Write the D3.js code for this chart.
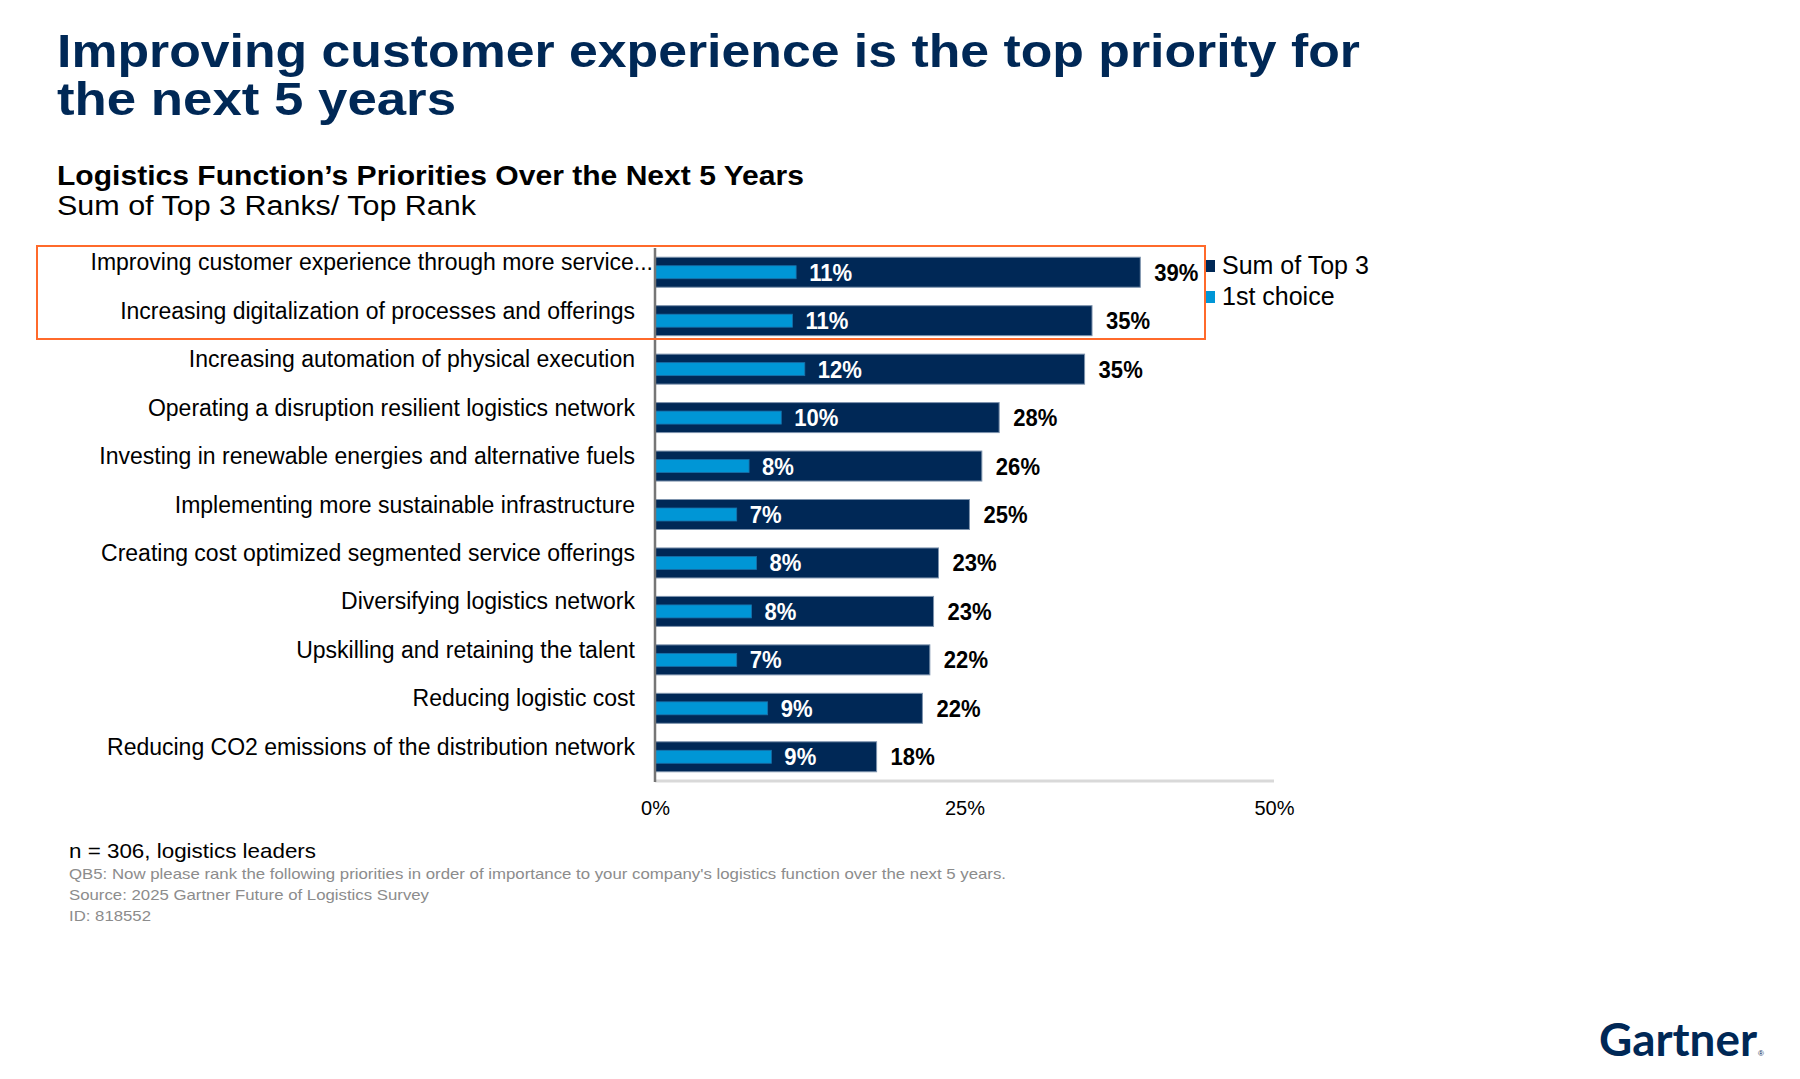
<!DOCTYPE html>
<html>
<head>
<meta charset="utf-8">
<script src="https://cdn.jsdelivr.net/npm/d3@7/dist/d3.min.js"></script>
<style>
  html, body { margin: 0; padding: 0; background: #ffffff; }
  svg { display: block; font-family: "Liberation Sans", Arial, sans-serif; }
</style>
</head>
<body>
<svg id="chart" width="1800" height="1079"></svg>
<script>
// ---- Data ----
const categories = [
  "Improving customer experience through more service...",
  "Increasing digitalization of processes and offerings",
  "Increasing automation of physical execution",
  "Operating a disruption resilient logistics network",
  "Investing in renewable energies and alternative fuels",
  "Implementing more sustainable infrastructure",
  "Creating cost optimized segmented service offerings",
  "Diversifying logistics network",
  "Upskilling and retaining the talent",
  "Reducing logistic cost",
  "Reducing CO2 emissions of the distribution network"
];
const sumTop3 = [39.2, 35.3, 34.7, 27.8, 26.4, 25.4, 22.9, 22.5, 22.2, 21.6, 17.9];
const firstChoice = [11.4, 11.1, 12.1, 10.2, 7.6, 6.6, 8.2, 7.8, 6.6, 9.1, 9.4];
const xTicks = [0, 25, 50];
const seriesNames = ["Sum of Top 3", "1st choice"];

const titleLines = ["Improving customer experience is the top priority for", "the next 5 years"];
const subtitle = "Logistics Function\u2019s Priorities Over the Next 5 Years";
const subtitle2 = "Sum of Top 3 Ranks/ Top Rank";
const footnotes = [
  "QB5: Now please rank the following priorities in order of importance to your company's logistics function over the next 5 years.",
  "Source: 2025 Gartner Future of Logistics Survey",
  "ID: 818552"
];
const sampleNote = "n = 306, logistics leaders";

// ---- Styles ----
const NAVY = "#002856";
const LIGHT = "#0096D6";
const svg = d3.select("#chart");

// Titles
svg.append("text").attr("x", 57).attr("y", 67).attr("fill", NAVY)
  .attr("font-size", 46).attr("font-weight", "bold")
  .attr("textLength", 1303).attr("lengthAdjust", "spacingAndGlyphs").text(titleLines[0]);
svg.append("text").attr("x", 57).attr("y", 115).attr("fill", NAVY)
  .attr("font-size", 46).attr("font-weight", "bold")
  .attr("textLength", 399).attr("lengthAdjust", "spacingAndGlyphs").text(titleLines[1]);
svg.append("text").attr("x", 57).attr("y", 185).attr("fill", "#000")
  .attr("font-size", 27).attr("font-weight", "bold")
  .attr("textLength", 747).attr("lengthAdjust", "spacingAndGlyphs").text(subtitle);
svg.append("text").attr("x", 57).attr("y", 215).attr("fill", "#000")
  .attr("font-size", 27)
  .attr("textLength", 419).attr("lengthAdjust", "spacingAndGlyphs").text(subtitle2);

// ---- Chart ----
const x0 = 655, x1 = 1274, yTop = 248, yBot = 781;
const x = d3.scaleLinear().domain([0, 50]).range([x0, x1]);
const y = d3.scaleBand().domain(categories).range([yTop, yBot]).paddingInner(0).paddingOuter(0);
const SX = 0.92;

const data = categories.map((c, i) => ({ c, s: sumTop3[i], f: firstChoice[i] }));

// bottom gridline
svg.append("line").attr("x1", x0).attr("x2", x1).attr("y1", yBot).attr("y2", yBot)
  .attr("stroke", "#d9d9d9").attr("stroke-width", 3);

// x axis tick labels via d3 axis
const xAxis = d3.axisBottom(x).tickValues(xTicks).tickFormat(d => d + "%").tickSize(0).tickPadding(20);
const gx = svg.append("g").attr("transform", `translate(0,${yBot})`).call(xAxis);
gx.select(".domain").remove();
gx.selectAll("text").attr("font-size", 20).attr("font-family", "Liberation Sans, Arial, sans-serif").attr("fill", "#000");

const g = svg.append("g");
const rows = g.selectAll("g.row").data(data).join("g").attr("class", "row");

// dark bars
rows.append("rect")
  .attr("x", x(0)).attr("y", d => y(d.c) + y.bandwidth() / 2 - 15)
  .attr("width", d => x(d.s) - x(0)).attr("height", 30)
  .attr("fill", NAVY).attr("stroke", "#7d93ad").attr("stroke-width", 1);
// light bars
rows.append("rect")
  .attr("x", x(0)).attr("y", d => y(d.c) + y.bandwidth() / 2 - 6.5)
  .attr("width", d => x(d.f) - x(0)).attr("height", 13)
  .attr("fill", LIGHT).attr("stroke", "#1a6fa8").attr("stroke-width", 0.8);

// inner labels
rows.append("text")
  .attr("transform", d => `translate(${x(d.f) + 13},${y(d.c) + y.bandwidth() / 2 + 8.5}) scale(${SX},1)`)
  .attr("fill", "#fff").attr("font-weight", "bold").attr("font-size", 24)
  .text(d => Math.round(d.f) + "%");
// outer labels
rows.append("text")
  .attr("transform", d => `translate(${x(d.s) + 14},${y(d.c) + y.bandwidth() / 2 + 8.5}) scale(${SX},1)`)
  .attr("fill", "#000").attr("font-weight", "bold").attr("font-size", 24)
  .text(d => Math.round(d.s) + "%");

// category labels
rows.append("text")
  .attr("x", d => d.c.endsWith("...") ? x0 - 2 : x0 - 20)
  .attr("y", d => y(d.c) + y.bandwidth() / 2 - 2)
  .attr("text-anchor", "end").attr("fill", "#000").attr("font-size", 23)
  .text(d => d.c);

// vertical axis line
svg.append("line").attr("x1", x0).attr("x2", x0).attr("y1", yTop).attr("y2", yBot + 1)
  .attr("stroke", "#767676").attr("stroke-width", 2.5);

// legend
const leg = svg.append("g");
const legColors = [NAVY, LIGHT];
seriesNames.forEach((n, i) => {
  const yy = 273 + i * 31;
  leg.append("rect").attr("x", 1204).attr("y", yy - 13).attr("width", 11).attr("height", 12).attr("fill", legColors[i]);
  leg.append("text").attr("x", 1222).attr("y", yy + 1).attr("font-size", 25).attr("fill", "#000").text(n);
});

// highlight box
svg.append("rect").attr("x", 37).attr("y", 246).attr("width", 1168).attr("height", 93)
  .attr("fill", "none").attr("stroke", "#FF6A2B").attr("stroke-width", 2);

// footer
svg.append("text").attr("x", 69).attr("y", 858).attr("font-size", 21).attr("fill", "#000")
  .attr("textLength", 247).attr("lengthAdjust", "spacingAndGlyphs").text(sampleNote);
const fnLens = [937, 360, 82];
footnotes.forEach((t, i) => {
  svg.append("text").attr("x", 69).attr("y", 879 + i * 21).attr("font-size", 15).attr("fill", "#8c8c8c")
    .attr("textLength", fnLens[i]).attr("lengthAdjust", "spacingAndGlyphs").text(t);
});

// logo
svg.append("text").attr("x", 1599).attr("y", 1056).attr("font-family", "Lato, 'Noto Sans', sans-serif")
  .attr("font-weight", "bold").attr("font-size", 46).attr("fill", NAVY)
  .attr("textLength", 158).attr("lengthAdjust", "spacingAndGlyphs").text("Gartner");
svg.append("text").attr("x", 1758).attr("y", 1056).attr("font-size", 8).attr("fill", NAVY).text("\u00AE");
</script>
</body>
</html>
